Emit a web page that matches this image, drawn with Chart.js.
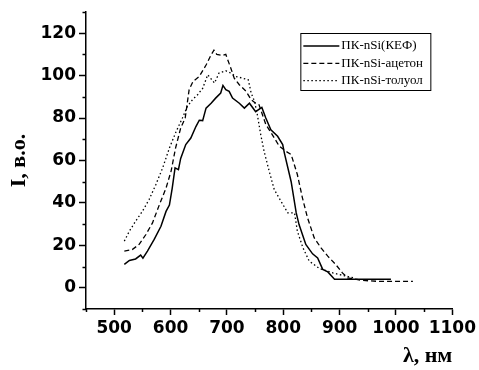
<!DOCTYPE html>
<html><head><meta charset="utf-8">
<script src="https://cdn.jsdelivr.net/npm/chart.js@4.4.0/dist/chart.umd.min.js"></script>
<style>html,body{margin:0;padding:0;background:#fff;}#wrap{width:479px;height:370px;}</style>
</head><body><div id="wrap"><canvas id="c" width="479" height="370"></canvas></div>
<script>
// ---- data ----
const seriesLabels = ['ПК-nSi(КЕФ)', 'ПК-nSi-ацетон', 'ПК-nSi-толуол'];

const kefX = [518,527,538,547,551,559,571,583,592,598,603,608,614,618,627,636,645,651,657,663,672,680,689,693,698,704,710,722,731,740,751,762,769,778,790,799,802,814,823,828,840,852,861,870,879,891,920,960,991];
const kefY = [11,12.9,13.6,15.4,14,17.3,22.8,29,36,39,47,56.5,55.7,61,67.5,70.6,76,79,78.8,84.7,87,89.4,91.8,95.4,93.4,92.6,89.4,87,84.7,87,83,85,80,74.5,71.4,67.5,63.5,50,35.3,29.8,20.4,16,14.1,8.7,7.5,4,4,4,4];

const acetX = [518,532,544,556,568,580,592,601,609,618,626,633,640,651,663,672,677,682,692,698,707,713,722,734,743,751,757,769,781,793,805,814,825,834,843,855,867,879,893,905,914,940,970,1000,1030];
const acetY = [17.3,18,20.4,25,30.6,39,47,55,66,75.3,80,93.4,97.3,99.6,105,109.8,112,110,109.5,110,103.5,98.8,95.7,92.6,88.7,87,86.3,77,72,66.7,64.3,62.8,53.4,42.4,33,23.5,18.8,14.9,11,7,4.7,3.5,3,3,3];

const tolX = [518,527,538,550,562,574,586,598,610,621,630,639,648,657,666,678,686,698,707,716,728,738,743,749,754,760,766,775,784,796,808,820,825,835,846,864,888,911,926];
const tolY = [22,26.7,31.4,36,41.6,48.7,56.5,65.9,73.7,80,85.5,88.7,91,94,100.4,96.5,101.2,102.3,101.2,99.6,98.8,98,91.8,87.9,81.6,72.2,64.3,55,46.3,40.8,35.3,35.3,26.7,18.8,12.6,9.1,7,5.5,4.7];

const xTickValues = [450,500,550,600,650,700,750,800,850,900,950,1000,1050,1100];
const xTickLabels = ['','500','','600','','700','','800','','900','','1000','','1100'];
const yTickValues = [-10,0,10,20,30,40,50,60,70,80,90,100,110,120,130];
const yTickLabels = ['','0','','20','','40','','60','','80','','100','','120',''];

const xTitle = 'λ, нм';
const yTitle = 'I, в.о.';

// ---- helpers ----
const pts = (xs, ys) => xs.map((x, i) => ({x: x, y: ys[i]}));
const labelFor = (vals, labs) => v => { const i = vals.indexOf(v); return i >= 0 ? labs[i] : ''; };

const minorTicks = {
  id: 'minorTicks',
  afterDraw(chart) {
    const ctx = chart.ctx;
    ctx.save();
    ctx.strokeStyle = '#000';
    ctx.lineWidth = 1.5;
    const xs = chart.scales.x, ys = chart.scales.y;
    xTickValues.forEach((v, i) => {
      if (xTickLabels[i] !== '') return;
      const px = Math.round(xs.getPixelForValue(v)) + 0.5;
      ctx.beginPath(); ctx.moveTo(px, xs.top); ctx.lineTo(px, xs.top + 3); ctx.stroke();
    });
    yTickValues.forEach((v, i) => {
      if (yTickLabels[i] !== '') return;
      const py = Math.round(ys.getPixelForValue(v)) + 0.5;
      ctx.beginPath(); ctx.moveTo(ys.right, py); ctx.lineTo(ys.right - 3.5, py); ctx.stroke();
    });
    ctx.restore();
  }
};

const boxLegend = {
  id: 'boxLegend',
  afterDraw(chart) {
    const ctx = chart.ctx;
    const ca = chart.chartArea;
    const bx = ca.right - 152, by = ca.top + 21, bw = 130, bh = 57;
    ctx.save();
    ctx.strokeStyle = '#000';
    ctx.lineWidth = 1;
    ctx.strokeRect(bx + 0.5, by + 0.5, bw, bh);
    ctx.font = '13px "Liberation Serif"';
    ctx.textBaseline = 'middle';
    ctx.fillStyle = '#000';
    chart.data.datasets.forEach((ds, i) => {
      const y = by + 13 + i * 17.3;
      ctx.setLineDash(ds.borderDash || []);
      ctx.lineWidth = ds.borderWidth;
      ctx.beginPath(); ctx.moveTo(bx + 3, y); ctx.lineTo(bx + 39, y); ctx.stroke();
      ctx.setLineDash([]);
      ctx.fillText(ds.label, bx + 41, y);
    });
    ctx.restore();
  }
};

const tickFont = {family: '"DejaVu Sans"', size: 17, weight: 'bold'};

new Chart(document.getElementById('c'), {
  type: 'scatter',
  data: {
    datasets: [
      {label: seriesLabels[0], data: pts(kefX, kefY), showLine: true, borderColor: '#000', borderWidth: 1.5, pointRadius: 0, borderDash: []},
      {label: seriesLabels[1], data: pts(acetX, acetY), showLine: true, borderColor: '#000', borderWidth: 1.3, pointRadius: 0, borderDash: [5, 3]},
      {label: seriesLabels[2], data: pts(tolX, tolY), showLine: true, borderColor: '#000', borderWidth: 1.3, pointRadius: 0, borderDash: [1.5, 2.5]}
    ]
  },
  options: {
    responsive: false,
    animation: false,
    devicePixelRatio: 1,
    layout: {padding: {left: 0, right: 26, top: 12, bottom: 0}},
    plugins: {legend: {display: false}, tooltip: {enabled: false}},
    scales: {
      x: {
        type: 'linear', min: 450, max: 1100,
        afterBuildTicks: s => { s.ticks = xTickValues.map(v => ({value: v})); },
        afterFit: s => { s.height = 61; },
        ticks: {autoSkip: false, maxRotation: 0, color: '#000', font: tickFont, padding: 3,
                callback: labelFor(xTickValues, xTickLabels)},
        grid: {display: true, drawOnChartArea: false, drawTicks: true, tickLength: 6, tickWidth: 1.5,
               tickColor: c => (c.tick && xTickLabels[xTickValues.indexOf(c.tick.value)] !== '') ? '#000' : 'rgba(0,0,0,0)'},
        border: {display: true, color: '#000', width: 1.5},
        title: {display: true, text: xTitle, align: 'end', color: '#000',
                font: {family: '"Liberation Serif"', size: 22, weight: 'bold'}, padding: {top: 0, bottom: 0}}
      },
      y: {
        type: 'linear', min: -10, max: 130,
        afterBuildTicks: s => { s.ticks = yTickValues.map(v => ({value: v})); },
        afterFit: s => { s.width = 86; s.paddingTop = 0; s.paddingBottom = 0; },
        ticks: {autoSkip: false, color: '#000', font: tickFont, padding: 3,
                callback: labelFor(yTickValues, yTickLabels)},
        grid: {display: true, drawOnChartArea: false, drawTicks: true, tickLength: 7, tickWidth: 1.5,
               tickColor: c => (c.tick && yTickLabels[yTickValues.indexOf(c.tick.value)] !== '') ? '#000' : 'rgba(0,0,0,0)'},
        border: {display: true, color: '#000', width: 1.5},
        title: {display: true, text: yTitle, color: '#000',
                font: {family: '"Liberation Serif"', size: 22, weight: 'bold'}, padding: {top: 6, bottom: 0}}
      }
    }
  },
  plugins: [minorTicks, boxLegend]
});
</script>
</body></html>
